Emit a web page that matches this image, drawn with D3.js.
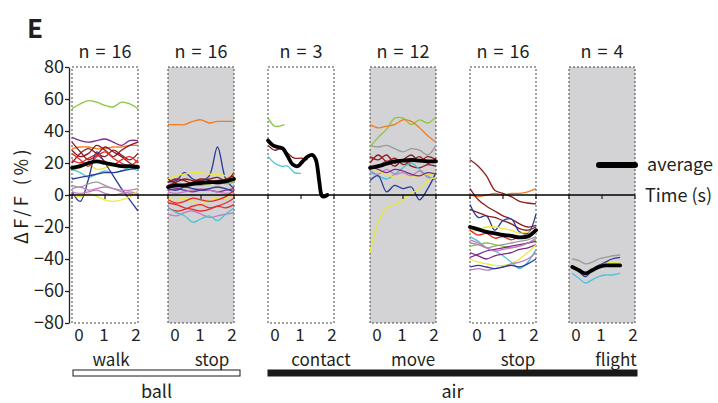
<!DOCTYPE html>
<html>
<head>
<meta charset="utf-8">
<script src="https://cdn.jsdelivr.net/npm/d3@7"></script>
<style>
  body { margin: 0; background: #fff; }
  text { font-family: "Noto Sans CJK JP", "Noto Sans", sans-serif; fill: #231f20; }
</style>
</head>
<body>
<div id="chart"></div>
<script>
// conditions, groups, counts
var conditions = ["walk", "stop", "contact", "move", "stop", "flight"];
var nCounts = [16, 16, 3, 12, 16, 4];
var shaded = [false, true, false, true, false, true];
var groups = ["ball", "air"];
var yTicks = [80, 60, 40, 20, 0, -20, -40, -60, -80];
var timeTicks = [0, 1, 2];

// sample times for full length traces (s)
var fullTimes = [0, 0.25, 0.5, 0.75, 1, 1.25, 1.5, 1.75, 2];

// walk (ball)
var walkColors = ["green", "purple", "orange", "darkred", "darkred", "darkred", "red", "yellow",
  "cyan", "blue", "blue", "gray", "pink", "pink", "yellow", "red"];
var walkTraces = [
  [54, 57, 59, 58, 56, 55, 58, 57, 54],
  [36, 34, 33, 34, 35, 33, 31, 34, 34],
  [29, 30, 30, 29, 29, 30, 30, 31, 31],
  [33, 27, 22, 25, 30, 27, 24, 20, 17],
  [28, 24, 26, 31, 28, 24, 28, 31, 33],
  [20, 26, 29, 26, 24, 28, 25, 22, 26],
  [22, 20, 23, 25, 21, 19, 22, 24, 20],
  [15, 17, 19, 16, 17, 19, 18, 17, 19],
  [16, 14, 11, 13, 15, 14, 15, 17, 15],
  [2, -4, 10, 27, 20, 12, 4, -3, -10],
  [10, 11, 12, 13, 14, 14, 15, 16, 17],
  [6, 5, 7, 8, 6, 4, 2, 1, 0],
  [4, 5, 3, 4, 5, 4, 3, 3, 4],
  [2, 1, 2, 3, 1, 0, 1, 2, 1],
  [0, -1, 1, -1, -3, -4, -3, -1, 3],
  [26, 22, 18, 24, 27, 23, 20, 18, 22]
];
var walkAvg = [17, 18, 20, 21, 20, 19, 18, 18, 17.5];

// stop (ball)
var stopBallColors = ["orange", "blue", "yellow", "darkred", "darkred", "darkred", "green", "purple",
  "pink", "blue", "yellow", "red", "red", "pink", "cyan", "red"];
var stopBallTraces = [
  [44, 44, 44, 46, 47, 45, 46, 46, 46],
  [8, 9, 14, 10, 9, 12, 30, 10, 4],
  [10, 12, 13, 14, 14, 13, 13, 12, 13],
  [8, 10, 9, 7, 9, 10, 11, 9, 14],
  [6, 8, 10, 9, 8, 7, 9, 10, 12],
  [10, 7, 6, 8, 10, 9, 7, 8, 10],
  [6, 5, 6, 7, 6, 7, 8, 7, 8],
  [3, 4, 3, 2, 3, 3, 2, 3, 4],
  [2, 1, 2, 3, 4, 3, 2, 1, 2],
  [4, 3, 5, 4, 3, 4, 5, 4, 2],
  [-2, -3, -2, -4, -6, -3, -2, -2, 0],
  [-3, -5, -4, -2, -3, -4, -3, -1, 3],
  [-8, -10, -9, -7, -6, -8, -7, -5, -2],
  [-12, -13, -11, -10, -12, -14, -13, -12, -11],
  [-8, -11, -13, -17, -15, -13, -16, -12, -8],
  [-5, -6, -8, -9, -10, -9, -7, -8, -6]
];
var stopBallAvg = [5, 6, 6, 7, 7.5, 8, 8, 8.5, 10];

// contact (air): traces are shorter
var contactColors = ["green", "darkred", "cyan"];
var contactTimes = [
  [0, 0.1, 0.2, 0.35, 0.5],
  [0, 0.2, 0.4, 0.6, 0.8, 1.0, 1.2],
  [0, 0.2, 0.4, 0.6, 0.8, 1.0]
];
var contactTraces = [
  [48, 45, 43, 43, 44],
  [31, 28, 29, 26, 23, 23, 22],
  [24, 20, 18, 18, 14, 13.5]
];
var contactAvgTimes = [0, 0.15, 0.3, 0.45, 0.6, 0.75, 0.9, 1.05, 1.2, 1.35, 1.45, 1.55, 1.62, 1.67, 1.8];
var contactAvg = [34, 31, 30, 29, 24, 19, 18, 21, 24, 25, 22, 9, 0, -1, 0];

// move (air)
var moveColors = ["green", "orange", "gray", "darkred", "darkred", "darkred", "cyan", "pink",
  "yellow", "blue", "yellow", "purple"];
var moveTraces = [
  [30, 36, 41, 48, 48, 44, 47, 45, 49],
  [44, 42, 43, 44, 47, 46, 42, 37, 33],
  [31, 30, 31, 29, 27, 29, 28, 25, 31],
  [24, 22, 25, 20, 22, 25, 21, 24, 22],
  [20, 25, 21, 23, 19, 21, 24, 20, 23],
  [17, 18, 21, 18, 22, 18, 17, 19, 18],
  [14, 12, 10, 13, 17, 20, 16, 12, 9],
  [15, 13, 16, 13, 14, 12, 15, 11, 10],
  [17, 15, 13, 11, 11, 11, 12, 13, 13],
  [9, 12, 2, 6, 4, 5, -3, 4, 14],
  [-36, -17, -8, -6, -3, 1, 4, 9, 11],
  [18, 16, 14, 16, 15, 13, 12, 14, 13]
];
var moveAvg = [17, 18, 19.5, 21, 21.5, 22, 21.5, 21, 21];

// stop (air)
var stopAirColors = ["darkred", "orange", "darkred", "darkred", "blue", "yellow", "red", "cyan",
  "green", "gray", "purple", "purple", "yellow", "pink", "blue", "pink"];
var stopAirTraces = [
  [22, 18, 12, 3, 1, -1, -4, -5, -5.5],
  [0, -1, 0, 1, 0, 1, 1, 2, 4],
  [4, -3, -7, -10, -13, -15, -18, -20, -19],
  [-9, -11, -13, -14, -16, -18, -21, -22, -20],
  [-6, -14, -13, -22, -16, -15, -23, -24, -12],
  [-23, -22, -20, -20, -21, -22, -24, -23, -24],
  [-22, -25, -24, -27, -26, -28, -26, -25, -23],
  [-26, -29, -33, -35, -38, -42, -46, -42, -34],
  [-32, -31, -30, -31, -32, -33, -32, -30, -28],
  [-30, -31, -33, -32, -31, -30, -29, -28, -26],
  [-39, -37, -35, -34, -33, -32, -31, -30, -29],
  [-36, -38, -40, -38, -37, -36, -34, -33, -31],
  [-40, -42, -43, -44, -44, -43, -40, -36, -31],
  [-47, -46, -47, -46, -45, -43, -42, -40, -36],
  [-45, -44, -45, -46, -45, -44, -45, -43, -40],
  [-28, -30, -33, -35, -34, -33, -32, -30, -27]
];
var stopAirAvg = [-20, -21.5, -23, -24, -25, -25.5, -26.5, -26, -22];

// flight (air)
var flightTimes = [0.1, 0.3, 0.5, 0.7, 0.9, 1.1, 1.3, 1.55];
var flightColors = ["gray", "blue", "yellow", "cyan"];
var flightTraces = [
  [-40, -41, -43, -42, -40, -39, -38, -37.5],
  [-45, -48, -51, -47, -44, -42, -40, -39],
  [-44, -46, -49, -46, -45, -43, -42, -42],
  [-49, -52, -55, -53, -51, -50, -50, -49]
];
var flightAvg = [-45, -47, -49, -47, -45, -44, -44, -44];

var palette = {
  green: "#8cc63f", purple: "#7b2c8e", orange: "#f47c20", darkred: "#8e1b1e",
  red: "#e8282b", yellow: "#eee83a", cyan: "#4fc3d6", blue: "#2b3a96",
  gray: "#9b9b9b", pink: "#c47cc0"
};

function full(traces, colors) {
  return traces.map(function(v, i){ return {c: colors[i], t: fullTimes, v: v}; });
}

var panelData = [
  {traces: full(walkTraces, walkColors), avg: {t: fullTimes, v: walkAvg}},
  {traces: full(stopBallTraces, stopBallColors), avg: {t: fullTimes, v: stopBallAvg}},
  {traces: contactTraces.map(function(v, i){ return {c: contactColors[i], t: contactTimes[i], v: v}; }),
   avg: {t: contactAvgTimes, v: contactAvg}},
  {traces: full(moveTraces, moveColors), avg: {t: fullTimes, v: moveAvg}},
  {traces: full(stopAirTraces, stopAirColors), avg: {t: fullTimes, v: stopAirAvg}},
  {traces: flightTraces.map(function(v, i){ return {c: flightColors[i], t: flightTimes, v: v}; }),
   avg: {t: flightTimes, v: flightAvg}}
];

// layout
var W = 718, H = 403;
var panelLeft = [72, 168, 268, 370, 470, 569];
var panelW = 66;
var axisX = 69;
var labelShift = [6, 11, 20, 10, 15, 14];
var fs = 18;

var svg = d3.select("#chart").append("svg")
  .attr("width", W)
  .attr("height", H);

var y = d3.scaleLinear().domain([-80, 80]).range([323, 67]);

// panel letter
svg.append("text").attr("x", 27).attr("y", 38)
  .attr("font-size", 26).attr("font-weight", "bold").text("E");

// boxes
panelLeft.forEach(function(left, i){
  svg.append("rect")
    .attr("x", left).attr("y", y(80))
    .attr("width", panelW).attr("height", y(-80) - y(80))
    .attr("fill", shaded[i] ? "#d3d2d4" : "#fff")
    .attr("stroke", "#444")
    .attr("stroke-width", 1)
    .attr("stroke-dasharray", "2,2");

  svg.append("text")
    .attr("x", left + panelW / 2).attr("y", 58)
    .attr("text-anchor", "middle").attr("font-size", fs)
    .attr("word-spacing", 2)
    .text("n = " + nCounts[i]);
});

// y axis
var yAxis = svg.append("g")
  .attr("transform", "translate(" + axisX + ",0)")
  .call(d3.axisLeft(y).tickValues(yTicks).tickSize(4).tickSizeOuter(0));
yAxis.select(".domain").attr("stroke", "#222").attr("stroke-width", 1.3);
yAxis.selectAll(".tick line").attr("stroke", "#222").attr("stroke-width", 1.3);
yAxis.selectAll(".tick text")
  .attr("font-size", fs)
  .attr("font-family", "'Noto Sans CJK JP', 'Noto Sans', sans-serif")
  .attr("fill", "#231f20")
  .attr("x", -5);

svg.append("text")
  .attr("transform", "translate(28," + y(0) + ") rotate(-90)")
  .attr("text-anchor", "middle").attr("font-size", fs)
  .attr("letter-spacing", 3.5)
  .text("ΔF/F (%)");

// traces
var line = d3.line().curve(d3.curveCatmullRom.alpha(0.5));

panelData.forEach(function(p, i){
  var x = d3.scaleLinear().domain([0, 2]).range([panelLeft[i], panelLeft[i] + panelW]);
  var g = svg.append("g");
  g.selectAll("path.trace").data(p.traces).enter().append("path")
    .attr("class", "trace")
    .attr("d", function(d){ return line(d.t.map(function(t, k){ return [x(t), y(d.v[k])]; })); })
    .attr("fill", "none")
    .attr("stroke", function(d){ return palette[d.c]; })
    .attr("stroke-width", 1.3);
  g.append("path")
    .attr("d", line(p.avg.t.map(function(t, k){ return [x(t), y(p.avg.v[k])]; })))
    .attr("fill", "none")
    .attr("stroke", "#000")
    .attr("stroke-width", 3.8)
    .attr("stroke-linecap", "round");

  // time ticks and labels
  var tg = svg.append("g")
    .attr("transform", "translate(0," + y(0) + ")");
  tg.selectAll("line").data(timeTicks).enter().append("line")
    .attr("x1", function(d){ return x(d); }).attr("x2", function(d){ return x(d); })
    .attr("y1", 0).attr("y2", 4)
    .attr("stroke", "#222").attr("stroke-width", 1.2);

  svg.selectAll("text.tt" + i).data(timeTicks).enter().append("text")
    .attr("class", "tt" + i)
    .attr("x", function(d){ return x(d) + (d === 0 ? 7 : d === 2 ? -2 : -1); })
    .attr("y", 341)
    .attr("text-anchor", "middle").attr("font-size", 17)
    .text(function(d){ return d; });

  svg.append("text")
    .attr("x", panelLeft[i] + panelW / 2 + labelShift[i]).attr("y", 366)
    .attr("text-anchor", "middle").attr("font-size", 17)
    .text(conditions[i]);
});

// zero line
svg.append("line")
  .attr("x1", axisX).attr("x2", panelLeft[5] + panelW)
  .attr("y1", y(0)).attr("y2", y(0))
  .attr("stroke", "#000").attr("stroke-width", 1.5);
svg.append("text")
  .attr("x", 645).attr("y", y(0) + 7)
  .attr("font-size", fs).text("Time (s)");

// legend
svg.append("line")
  .attr("x1", 599).attr("x2", 635)
  .attr("y1", 165).attr("y2", 165)
  .attr("stroke", "#000").attr("stroke-width", 6)
  .attr("stroke-linecap", "round");
svg.append("text")
  .attr("x", 647).attr("y", 171)
  .attr("font-size", fs).text("average");

// group bars
var groupSpan = [[73, 240], [268, 637]];
groupSpan.forEach(function(s, i){
  svg.append("rect")
    .attr("x", s[0]).attr("y", 370)
    .attr("width", s[1] - s[0]).attr("height", 6)
    .attr("fill", i === 0 ? "#fff" : "#1a1a1a")
    .attr("stroke", "#1a1a1a").attr("stroke-width", 1);
  svg.append("text")
    .attr("x", (s[0] + s[1]) / 2).attr("y", 398)
    .attr("text-anchor", "middle").attr("font-size", fs)
    .text(groups[i]);
});
</script>
</body>
</html>
